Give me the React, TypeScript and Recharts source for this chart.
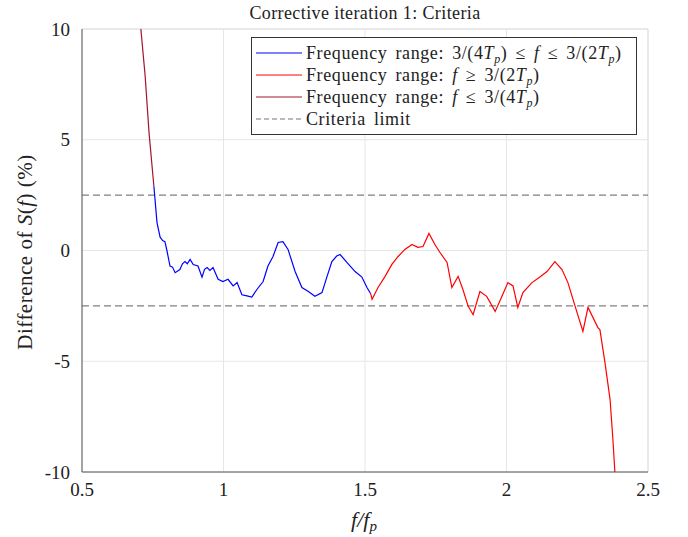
import { LineChart, Line, XAxis, YAxis, CartesianGrid, ReferenceLine } from "recharts";

// f/fp and difference (%)
const lowRange = [
  { f: 0.708, d: 10 }, { f: 0.723, d: 7.9 }, { f: 0.737, d: 5.3 }, { f: 0.754, d: 2.9 },
];

const midRange = [
  { f: 0.754, d: 2.9 }, { f: 0.765, d: 1.26 }, { f: 0.776, d: 0.6 }, { f: 0.785, d: 0.45 },
  { f: 0.793, d: 0.4 }, { f: 0.8, d: 0.0 }, { f: 0.811, d: -0.7 }, { f: 0.82, d: -0.75 },
  { f: 0.829, d: -1.0 }, { f: 0.846, d: -0.86 }, { f: 0.855, d: -0.6 }, { f: 0.864, d: -0.5 },
  { f: 0.872, d: -0.6 }, { f: 0.882, d: -0.4 }, { f: 0.893, d: -0.63 }, { f: 0.91, d: -0.7 },
  { f: 0.924, d: -1.2 }, { f: 0.933, d: -0.85 }, { f: 0.942, d: -0.77 }, { f: 0.952, d: -0.9 },
  { f: 0.963, d: -0.77 }, { f: 0.981, d: -1.3 }, { f: 0.998, d: -1.4 }, { f: 1.016, d: -1.3 },
  { f: 1.034, d: -1.6 }, { f: 1.048, d: -1.45 }, { f: 1.065, d: -2.0 }, { f: 1.083, d: -2.05 },
  { f: 1.1, d: -2.1 }, { f: 1.118, d: -1.76 }, { f: 1.14, d: -1.4 }, { f: 1.157, d: -0.7 },
  { f: 1.175, d: -0.27 }, { f: 1.193, d: 0.36 }, { f: 1.21, d: 0.4 }, { f: 1.228, d: 0.05 },
  { f: 1.253, d: -0.95 }, { f: 1.277, d: -1.67 }, { f: 1.3, d: -1.85 }, { f: 1.323, d: -2.07 },
  { f: 1.348, d: -1.9 }, { f: 1.366, d: -1.17 }, { f: 1.383, d: -0.5 }, { f: 1.4, d: -0.25 },
  { f: 1.412, d: -0.18 }, { f: 1.436, d: -0.54 }, { f: 1.465, d: -0.95 }, { f: 1.489, d: -1.2 },
  { f: 1.507, d: -1.67 }, { f: 1.52, d: -1.95 },
];

const highRange = [
  { f: 1.52, d: -1.95 }, { f: 1.525, d: -2.2 }, { f: 1.546, d: -1.67 }, { f: 1.571, d: -1.17 },
  { f: 1.595, d: -0.63 }, { f: 1.617, d: -0.27 }, { f: 1.641, d: 0.05 }, { f: 1.666, d: 0.27 },
  { f: 1.687, d: 0.14 }, { f: 1.705, d: 0.18 }, { f: 1.726, d: 0.77 }, { f: 1.747, d: 0.27 },
  { f: 1.765, d: -0.09 }, { f: 1.79, d: -0.54 }, { f: 1.807, d: -1.67 }, { f: 1.829, d: -1.17 },
  { f: 1.846, d: -1.76 }, { f: 1.864, d: -2.5 }, { f: 1.882, d: -2.9 }, { f: 1.906, d: -1.85 },
  { f: 1.93, d: -2.07 }, { f: 1.96, d: -2.75 }, { f: 1.984, d: -2.07 }, { f: 2.005, d: -1.45 },
  { f: 2.023, d: -1.6 }, { f: 2.04, d: -2.57 }, { f: 2.058, d: -1.9 }, { f: 2.09, d: -1.45 },
  { f: 2.118, d: -1.2 }, { f: 2.143, d: -0.95 }, { f: 2.171, d: -0.5 }, { f: 2.196, d: -0.86 },
  { f: 2.217, d: -1.45 }, { f: 2.242, d: -2.5 }, { f: 2.27, d: -3.65 }, { f: 2.288, d: -2.57 },
  { f: 2.323, d: -3.48 }, { f: 2.33, d: -3.57 }, { f: 2.348, d: -5.06 }, { f: 2.366, d: -6.73 },
  { f: 2.376, d: -8.53 }, { f: 2.383, d: -10 },
];

const criteriaLimits = [2.5, -2.5];
const xTicks = [0.5, 1, 1.5, 2, 2.5];
const yTicks = [-10, -5, 0, 5, 10];

const FONT = "'Liberation Serif', 'DejaVu Serif', serif";
const BLUE = "#0000ff";
const RED = "#ff0000";
const DARKRED = "#a2142f";

const I = ({ children }: { children: any }) => <i>{children}</i>;
const Tp = () => (
  <>
    <I>T</I>
    <span style={{ fontSize: 12, fontStyle: "italic", position: "relative", top: 4, lineHeight: 0 }}>p</span>
  </>
);

function LegendBox() {
  const rows = [
    { stroke: BLUE, dash: undefined, text: <>Frequency range: 3/(4<Tp />) ≤ <I>f</I> ≤ 3/(2<Tp />)</> },
    { stroke: RED, dash: undefined, text: <>Frequency range: <I>f</I> ≥ 3/(2<Tp />)</> },
    { stroke: DARKRED, dash: undefined, text: <>Frequency range: <I>f</I> ≤ 3/(4<Tp />)</> },
    { stroke: "#777", dash: "5 3", text: <>Criteria limit</> },
  ];
  return (
    <div
      style={{
        position: "absolute",
        left: 251,
        top: 37,
        border: "1px solid #333",
        background: "#fff",
        width: 386,
        height: 98,
        boxSizing: "border-box",
        padding: "4px 0 0 4px",
        fontFamily: FONT,
        fontSize: 18,
        letterSpacing: 0.6,
        wordSpacing: 3,
        color: "#222",
      }}
    >
      {rows.map((r, i) => (
        <div key={i} style={{ display: "flex", alignItems: "center", height: 22, lineHeight: "20px" }}>
          <svg width={46} height={10} style={{ marginRight: 4, flex: "none" }}>
            <line x1={0} y1={5} x2={46} y2={5} stroke={r.stroke} strokeWidth={1} strokeDasharray={r.dash} />
          </svg>
          <span style={{ whiteSpace: "nowrap" }}>{r.text}</span>
        </div>
      ))}
    </div>
  );
}

export default function App() {
  return (
    <div style={{ position: "absolute", left: 0, top: 0, width: 688, height: 537, background: "#fff" }}>
      <LineChart width={688} height={537} margin={{ top: 29, right: 40, bottom: 0, left: 0 }}>
        <CartesianGrid stroke="#e6e6e6" strokeWidth={1} />
        <XAxis
          type="number"
          dataKey="f"
          domain={[0.5, 2.5]}
          ticks={xTicks}
          height={65}
          allowDataOverflow
          stroke="#555"
          tickLine={false}
          tick={{ fill: "#222", fontSize: 19, fontFamily: FONT }}
          tickMargin={5}
        />
        <YAxis
          type="number"
          dataKey="d"
          domain={[-10, 10]}
          ticks={yTicks}
          width={82}
          allowDataOverflow
          stroke="#555"
          tickLine={false}
          tick={{ fill: "#222", fontSize: 19, fontFamily: FONT }}
          tickMargin={6}
        />
        <ReferenceLine y={10} stroke="#e0e0e0" />
        <ReferenceLine x={2.5} stroke="#e0e0e0" />
        {criteriaLimits.map((v) => (
          <ReferenceLine key={v} y={v} stroke="#808080" strokeWidth={1.3} strokeDasharray="7 4" />
        ))}
        <Line data={lowRange} dataKey="d" stroke={DARKRED} strokeWidth={1.2} dot={false} isAnimationActive={false} />
        <Line data={midRange} dataKey="d" stroke={BLUE} strokeWidth={1.2} dot={false} isAnimationActive={false} />
        <Line data={highRange} dataKey="d" stroke={RED} strokeWidth={1.2} dot={false} isAnimationActive={false} />
        <text x={365} y={19} textAnchor="middle" fontFamily={FONT} fontSize={18} letterSpacing={0.4} fill="#222">
          Corrective iteration 1: Criteria
        </text>
        <text x={364} y={527} textAnchor="middle" fontFamily={FONT} fontSize={22} fill="#222" fontStyle="italic">
          f/f<tspan fontSize={15} dy={4}>p</tspan>
        </text>
        <text
          x={0}
          y={0}
          transform="translate(32,252) rotate(-90)"
          textAnchor="middle"
          fontFamily={FONT}
          fontSize={21}
          letterSpacing={0.5}
          fill="#222"
        >
          Difference of <tspan fontStyle="italic">S</tspan>(<tspan fontStyle="italic">f</tspan>) (%)
        </text>
      </LineChart>
      <LegendBox />
    </div>
  );
}
